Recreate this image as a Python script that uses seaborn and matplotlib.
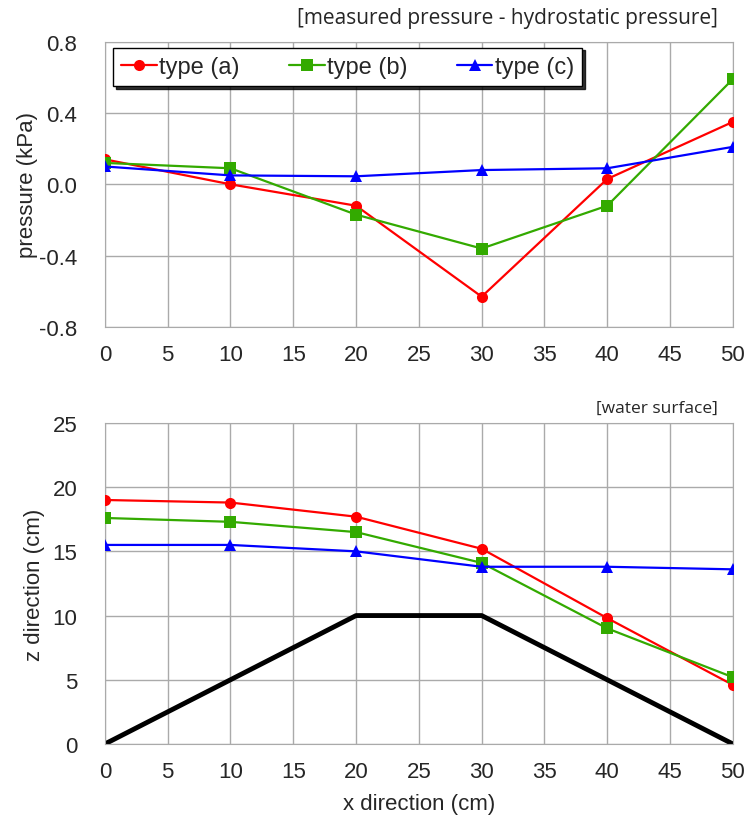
import pandas as pd
import seaborn as sns
import matplotlib.pyplot as plt

# x positions (cm)
x_pos = [0, 10, 20, 30, 40, 50]

# pressure difference (kPa)
press_a = [0.14, 0.00, -0.12, -0.63, 0.03, 0.35]
press_b = [0.12, 0.09, -0.17, -0.36, -0.12, 0.59]
press_c = [0.10, 0.05, 0.045, 0.08, 0.09, 0.21]

# water surface (cm)
surf_a = [19.0, 18.8, 17.7, 15.2, 9.8, 4.6]
surf_b = [17.6, 17.3, 16.5, 14.1, 9.0, 5.2]
surf_c = [15.5, 15.5, 15.0, 13.8, 13.8, 13.6]

# bed shape
bed_x = [0, 20, 30, 50]
bed_z = [0, 10, 10, 0]

types = ["type (a)", "type (b)", "type (c)"]
colors = ["#FF0000", "#33AA00", "#0000FF"]
marks = ["o", "s", "^"]

sns.set_style("white")
plt.rcParams["font.family"] = ["Liberation Sans", "DejaVu Sans"]

rows_p, rows_s = [], []
for t, p, s in zip(types, [press_a, press_b, press_c], [surf_a, surf_b, surf_c]):
    for xi, pi, si in zip(x_pos, p, s):
        rows_p.append({"x": xi, "y": pi, "type": t})
        rows_s.append({"x": xi, "y": si, "type": t})
df_p = pd.DataFrame(rows_p)
df_s = pd.DataFrame(rows_s)

fig = plt.figure(figsize=(7.44, 8.2), dpi=100)
ax1 = fig.add_axes([0.141, 0.600, 0.844, 0.348])
ax2 = fig.add_axes([0.141, 0.0915, 0.844, 0.3915])

pal = dict(zip(types, colors))
mk = dict(zip(types, marks))

for ax, df in [(ax1, df_p), (ax2, df_s)]:
    sns.lineplot(data=df, x="x", y="y", hue="type", style="type", palette=pal,
                 markers=mk, dashes=False, markersize=8, markeredgewidth=0,
                 linewidth=1.6, ax=ax, legend=(ax is ax1), zorder=3)

sns.lineplot(x=bed_x, y=bed_z, color="black", linewidth=3.5, ax=ax2, zorder=2)

for ax in (ax1, ax2):
    ax.set_xlim(0, 50)
    ax.set_xticks(range(0, 51, 5))
    ax.grid(True, color="#AAAAAA", linewidth=1.0)
    for sp in ax.spines.values():
        sp.set_color("#AAAAAA")
    ax.tick_params(axis="both", length=6, color="#AAAAAA", labelsize=16)
    ax.tick_params(axis="y", pad=14)
    ax.tick_params(axis="x", pad=6)
    ax.set_axisbelow(True)

ax1.set_ylim(-0.8, 0.8)
ax1.set_yticks([-0.8, -0.4, 0.0, 0.4, 0.8])
ax1.set_yticklabels(["-0.8", "-0.4", "0.0", "0.4", "0.8"])
ax1.set_xlabel("")
ax1.set_ylabel("pressure (kPa)", fontsize=16)
ax1.yaxis.set_label_coords(-0.107, 0.5)

ax2.set_ylim(0, 25)
ax2.set_yticks(range(0, 26, 5))
ax2.set_xlabel("x direction (cm)", fontsize=16, labelpad=8)
ax2.set_ylabel("z direction (cm)", fontsize=16)
ax2.yaxis.set_label_coords(-0.095, 0.5)

leg = ax1.legend(loc="upper left", ncol=3, bbox_to_anchor=(0.013, 0.979),
                 borderaxespad=0, frameon=True, fancybox=False,
                 shadow={"color": "black", "alpha": 0.8},
                 fontsize=17, handlelength=1.5, handletextpad=0.1,
                 columnspacing=2.1, borderpad=0.35)
leg.get_frame().set_edgecolor("black")
leg.get_frame().set_linewidth(1.0)

fig.text(0.965, 0.977, "[measured pressure - hydrostatic pressure]", ha="right", va="center",
         fontsize=15, family=["Open Sans", "DejaVu Sans"])
fig.text(0.965, 0.502, "[water surface]", ha="right", va="center",
         fontsize=12.5, family=["Open Sans", "DejaVu Sans"])

fig.savefig("out.png", dpi=100)
